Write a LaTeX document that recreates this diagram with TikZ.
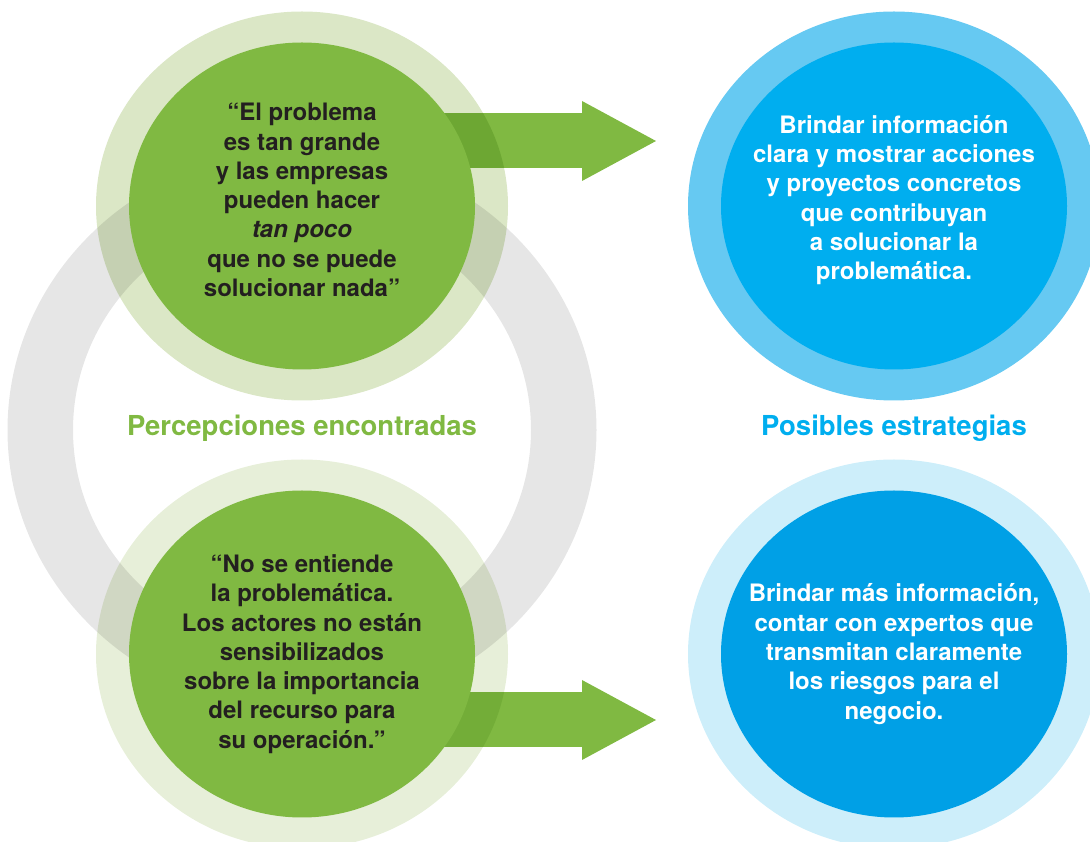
\documentclass[tikz,border=0pt]{standalone}
\usepackage{fontspec}
\setmainfont{TeX Gyre Heros}
\usepackage{tikz}
\usetikzlibrary{arrows.meta}
\usetikzlibrary{shapes.geometric}
\usetikzlibrary{calc}

\definecolor{ringgray}{HTML}{E6E6E6}
\definecolor{leafgreen}{HTML}{80B942}
\definecolor{palegreen}{HTML}{DBE7C6}
\definecolor{palergreen}{HTML}{E7EFD9}
\definecolor{skyblue}{HTML}{00AEEF}
\definecolor{paleblue}{HTML}{66C9F2}
\definecolor{deepblue}{HTML}{00A0E6}
\definecolor{palerblue}{HTML}{CDEEFA}
\definecolor{inkblack}{HTML}{231F20}

\pgfdeclarelayer{back}
\pgfsetlayers{back,main}

\begin{document}
\begin{tikzpicture}[x=1pt,y=1pt,
  disc/.style={ellipse, minimum width=346pt, minimum height=327pt, inner sep=0pt},
  halo/.style={blend mode=multiply},
  quote/.style={align=center, text=inkblack, font=\fontsize{24}{29.3}\selectfont\bfseries},
  answer/.style={align=center, text=white, font=\fontsize{24}{29.3}\selectfont\bfseries},
  heading/.style={font=\fontsize{27.5}{33}\selectfont\bfseries},
  bigarrow/.style={leafgreen, line width=55pt, -{Triangle[length=74pt,width=80pt,line width=0pt]}}
]
\useasboundingbox (0,0) rectangle (1090,841);
% draws discs
\node[disc, fill=leafgreen] (g1) at (302,635) {};
\node[disc, fill=leafgreen] (g2) at (302,187) {};
\node[disc, fill=skyblue] (b1) at (894,635) {};
\node[disc, fill=deepblue] (b2) at (894,187) {};
% arrow tips
\coordinate (t1) at (656,700);
\coordinate (t2) at (656,121);
% labels discs
\node[quote] (q1) at ($(g1.center)+(0,6)$) {“El problema\\es tan grande\\y las empresas\\pueden hacer\\\textit{tan poco}\\que no se puede\\solucionar nada”};
\node[quote] (q2) at (g2.center) {“No se entiende\\la problemática.\\Los actores no están\\sensibilizados\\sobre la importancia\\del recurso para\\su operación.”};
\node[answer] (s1) at ($(b1.center)+(0,6)$) {Brindar información\\clara y mostrar acciones\\y proyectos concretos\\que contribuyan\\a solucionar la\\problemática.};
\node[answer] (s2) at (b2.center) {Brindar más información,\\contar con expertos que\\transmitan claramente\\los riesgos para el\\negocio.};
% headings
\node[heading, text=leafgreen] (h1) at (302,413) {Percepciones encontradas};
\node[heading, text=skyblue] (h2) at (894,413) {Posibles estrategias};
\begin{pgfonlayer}{back}
% draws ring
\fill[ringgray, even odd rule] ($(g1)!0.5!(g2)$) ellipse [x radius=294.5pt, y radius=281pt]
  ($(g1)!0.5!(g2)$) ellipse [x radius=229pt, y radius=219pt];
% draws arrows
\draw[bigarrow] ($(g1.center |- t1)+(118,0)$) -- (t1);
\draw[bigarrow] ($(g2.center |- t2)+(118,0)$) -- (t2);
% draws halos
\fill[palegreen, halo] (g1.center) ellipse [x radius=206pt, y radius=194.5pt];
\fill[palergreen, halo] (g2.center) ellipse [x radius=206pt, y radius=194.5pt];
\fill[paleblue] (b1.center) ellipse [x radius=206pt, y radius=194.5pt];
\fill[palerblue] (b2.center) ellipse [x radius=206pt, y radius=194.5pt];
\end{pgfonlayer}
\end{tikzpicture}
\end{document}
